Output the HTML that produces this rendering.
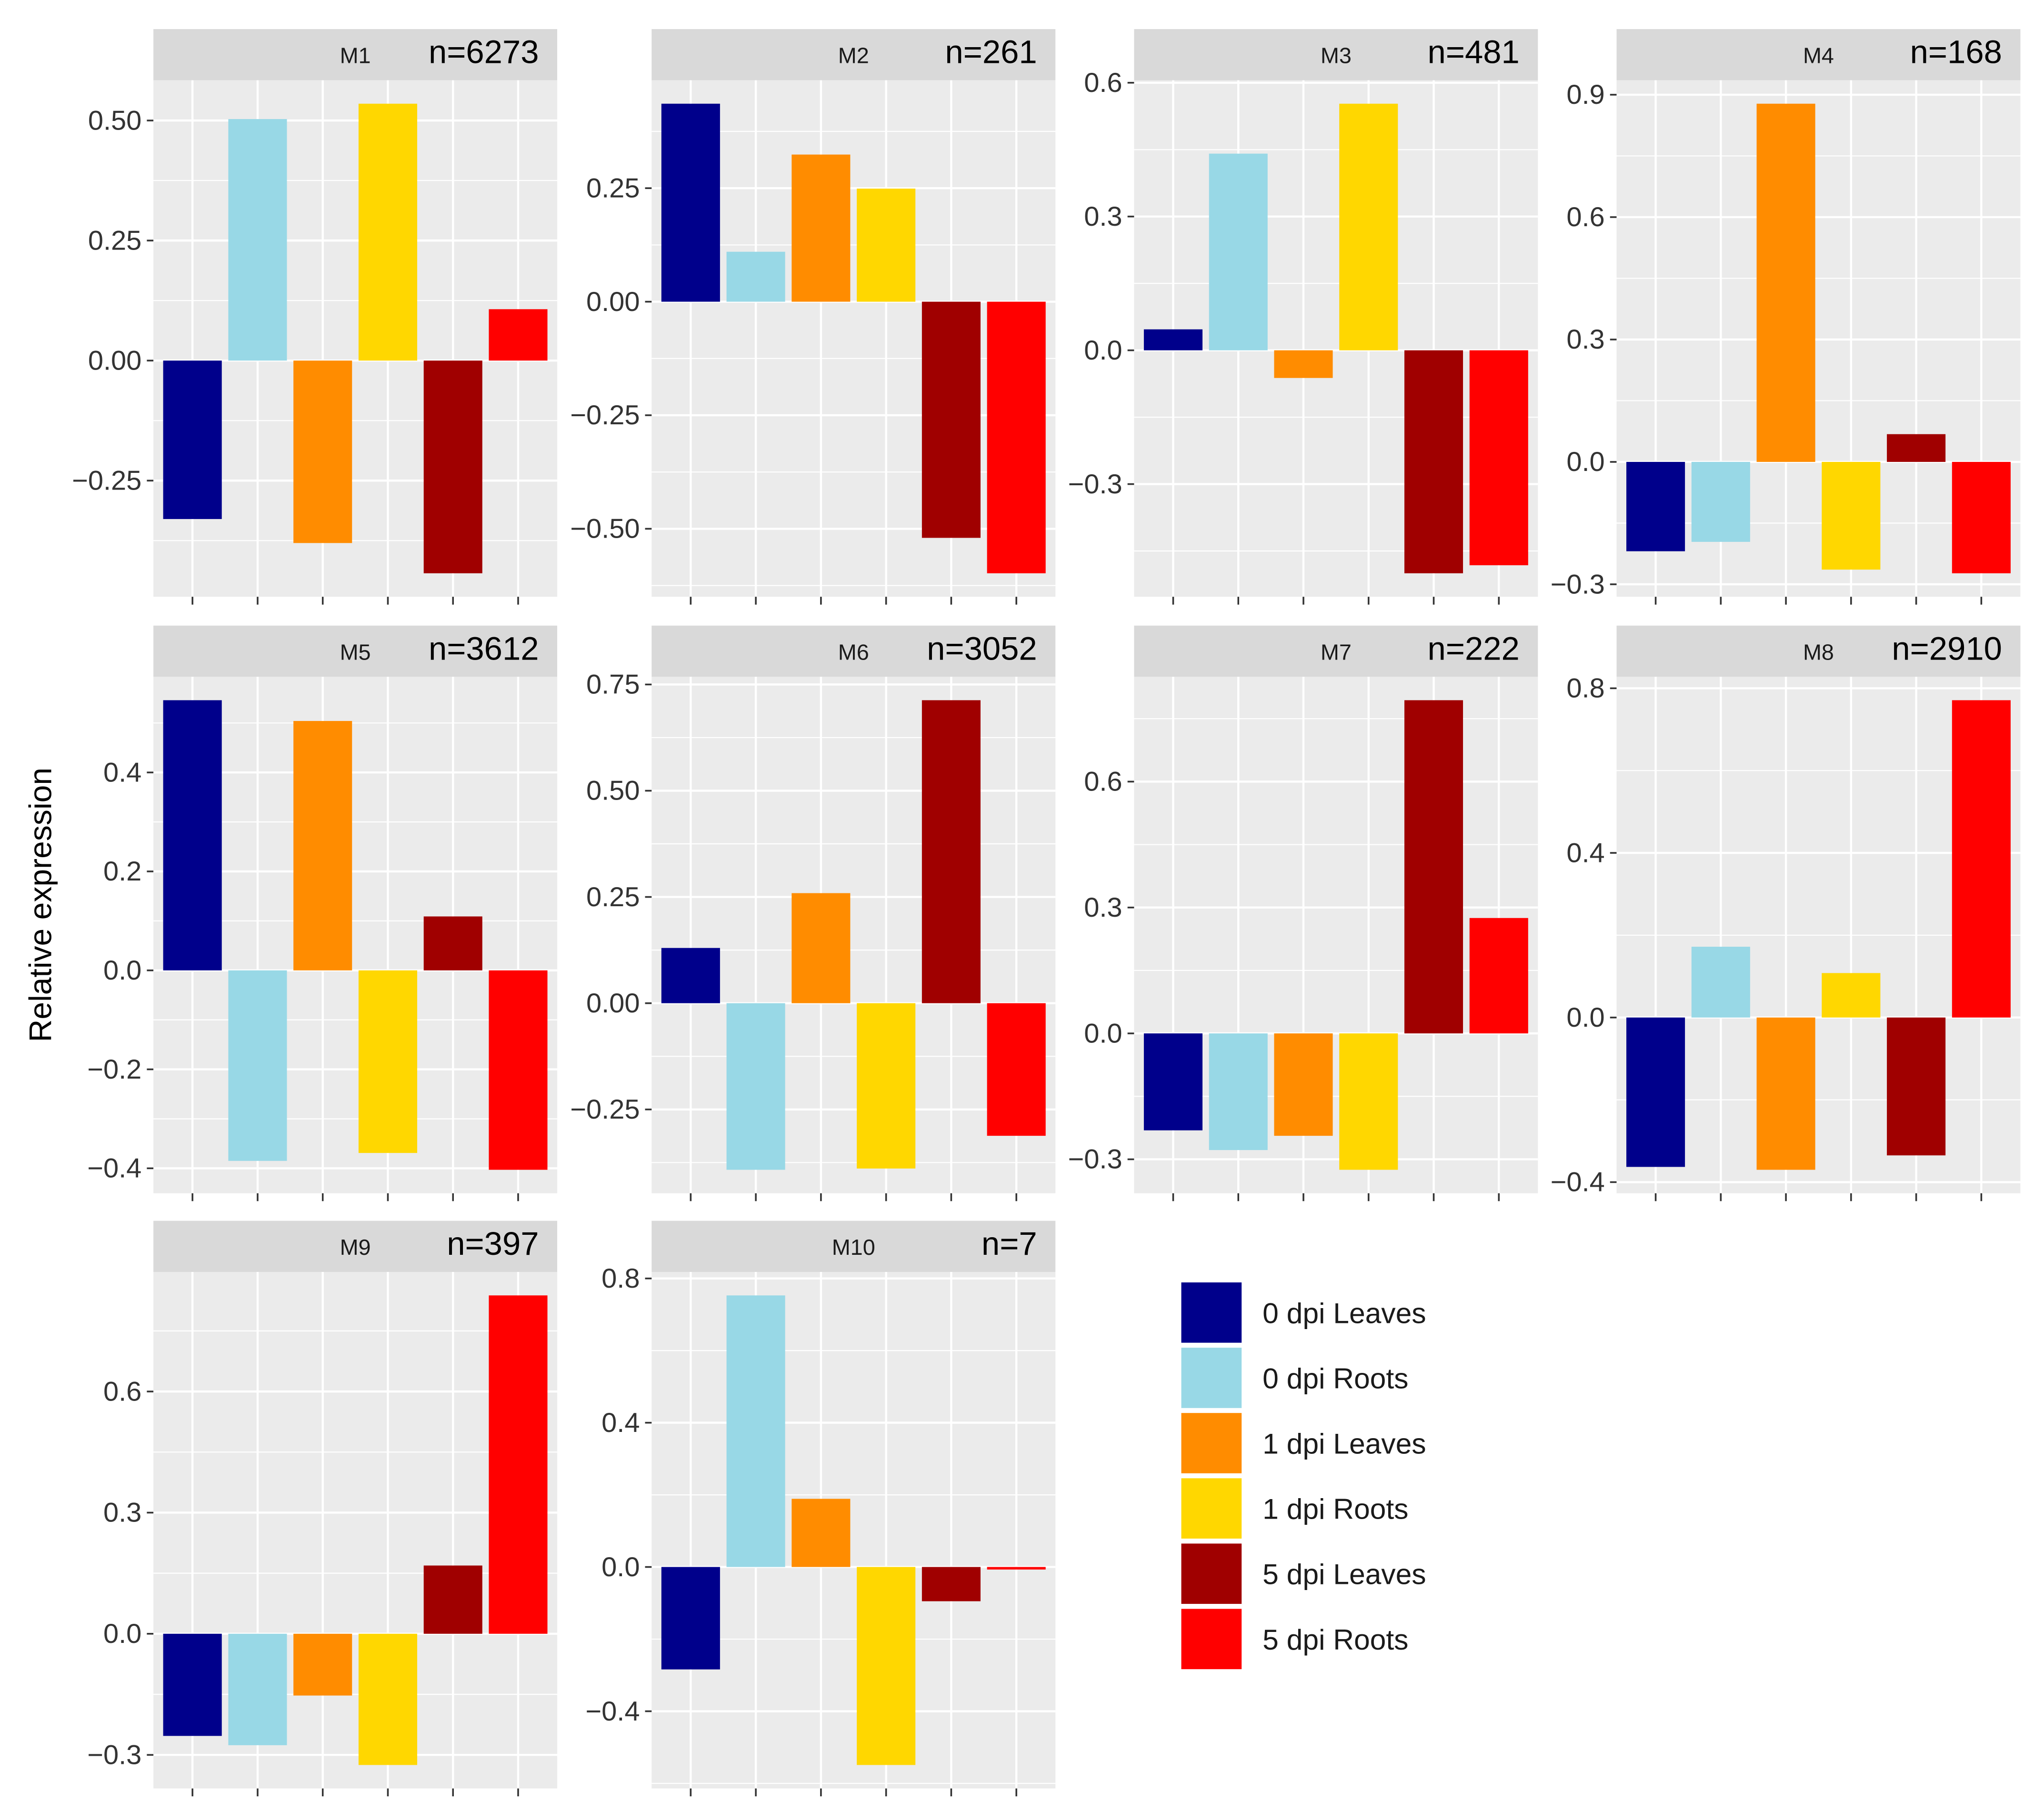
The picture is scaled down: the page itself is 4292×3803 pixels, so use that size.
<!DOCTYPE html>
<html><head><meta charset="utf-8"><style>
html,body{margin:0;padding:0;background:#fff;}
svg{display:block;}
text{font-family:"Liberation Sans",Arial,sans-serif;}
</style></head>
<body>
<svg id="chart" width="4292" height="3803" viewBox="0 0 1559 1381" xmlns="http://www.w3.org/2000/svg"></svg>
<script>
const categories = ["0 dpi Leaves","0 dpi Roots","1 dpi Leaves","1 dpi Roots","5 dpi Leaves","5 dpi Roots"];
const colors = ["#00008b","#98d8e6","#ff8c00","#ffd700","#a00000","#ff0000"];
const modules = ["M1","M2","M3","M4","M5","M6","M7","M8","M9","M10"];
const counts = ["n=6273","n=261","n=481","n=168","n=3612","n=3052","n=222","n=2910","n=397","n=7"];
const valsM1 = [-0.33,0.503,-0.38,0.535,-0.443,0.107];
const valsM2 = [0.436,0.110,0.324,0.249,-0.520,-0.598];
const valsM3 = [0.047,0.441,-0.062,0.553,-0.500,-0.482];
const valsM4 = [-0.219,-0.196,0.878,-0.264,0.068,-0.273];
const valsM5 = [0.546,-0.385,0.504,-0.369,0.109,-0.403];
const valsM6 = [0.130,-0.392,0.259,-0.389,0.713,-0.312];
const valsM7 = [-0.231,-0.278,-0.244,-0.325,0.794,0.275];
const valsM8 = [-0.363,0.172,-0.370,0.108,-0.335,0.771];
const valsM9 = [-0.253,-0.276,-0.153,-0.325,0.169,0.838];
const valsM10 = [-0.284,0.753,0.189,-0.549,-0.095,-0.007];
const ticksM1 = [-0.25,0,0.25,0.5];
const ticksM2 = [-0.5,-0.25,0,0.25];
const ticksM3 = [-0.3,0,0.3,0.6];
const ticksM4 = [-0.3,0,0.3,0.6,0.9];
const ticksM5 = [-0.4,-0.2,0,0.2,0.4];
const ticksM6 = [-0.25,0,0.25,0.5,0.75];
const ticksM7 = [-0.3,0,0.3,0.6];
const ticksM8 = [-0.4,0,0.4,0.8];
const ticksM9 = [-0.3,0,0.3,0.6];
const ticksM10 = [-0.4,0,0.4,0.8];
const tickDigits = [2,2,1,1,1,2,1,1,1,1];

const allVals=[valsM1,valsM2,valsM3,valsM4,valsM5,valsM6,valsM7,valsM8,valsM9,valsM10];
const allTicks=[ticksM1,ticksM2,ticksM3,ticksM4,ticksM5,ticksM6,ticksM7,ticksM8,ticksM9,ticksM10];
const NS="http://www.w3.org/2000/svg";
const svg=document.getElementById('chart');
function mk(tag,attrs,parent){const e=document.createElementNS(NS,tag);for(const k in attrs)e.setAttribute(k,attrs[k]);(parent||svg).appendChild(e);return e;}
const colX=[117,497,865,1233], rowY=[22,477,931], PW=308, SH=39, PH=394;
function fmt(v,d){const s=Math.abs(v).toFixed(d);return (v<0?"\u2212":"")+s;}

modules.forEach((m,i)=>{
  const vals=allVals[i], ticks=allTicks[i];
  const x0=colX[i%4], y0=rowY[Math.floor(i/4)], pt=y0+SH, pb=pt+PH;
  const g=mk('g',{});
  
  
  let lo=Math.min(0,...vals), hi=Math.max(0,...vals), r=hi-lo;
  lo-=r*0.05; hi+=r*0.05;
  const yS=v=>pb-(v-lo)/(hi-lo)*PH;
  const step=PW/6.2;
  const xS=k=>x0+step*(0.6+k);
  mk('rect',{x:x0,y:pt,width:PW,height:PH,fill:'#ebebeb'},g);
  const dt=ticks[1]-ticks[0];
  for(let t=ticks[0]-dt/2;t<=ticks[ticks.length-1]+dt;t+=dt){
    const y=yS(t); if(y>pt&&y<pb) mk('line',{x1:x0,x2:x0+PW,y1:y,y2:y,stroke:'#fff','stroke-width':0.8},g);
  }
  ticks.forEach(t=>{const y=yS(t);mk('line',{x1:x0,x2:x0+PW,y1:y,y2:y,stroke:'#fff','stroke-width':1.6},g);
    mk('line',{x1:x0-5,x2:x0,y1:y,y2:y,stroke:'#333','stroke-width':1.3},g);
    const tl=mk('text',{x:x0-9,y:y+7,'text-anchor':'end','font-size':21,fill:'#333'},g);
    
    
    tl.textContent=fmt(t,tickDigits[i]);});
  categories.forEach((c,k)=>{const x=xS(k);
    mk('line',{x1:x,x2:x,y1:pt,y2:pb,stroke:'#fff','stroke-width':1.6},g);
    mk('line',{x1:x,x2:x,y1:pb,y2:pb+6,stroke:'#333','stroke-width':1.3},g);});
  vals.forEach((v,k)=>{const x=xS(k)-step*0.45, ya=yS(Math.max(v,0)), yb=yS(Math.min(v,0));
    const b=mk('rect',{x:x,y:ya,width:step*0.9,height:Math.max(yb-ya,0.8),fill:colors[k]},g);
    
    });
  const st=mk('rect',{x:x0,y:y0,width:PW,height:SH,fill:'#d9d9d9'},g);
  
  
  const t1=mk('text',{x:x0+PW/2,y:y0+26,'text-anchor':'middle','font-size':17,fill:'#1a1a1a'},g);
  
  
  t1.textContent=m;
  const t2=mk('text',{x:x0+PW-14,y:y0+26,'text-anchor':'end','font-size':25,fill:'#000'},g);
  
  
  t2.textContent=counts[i];
});
const yt=mk('text',{x:0,y:0,transform:'translate(39,690) rotate(-90)','text-anchor':'middle','font-size':24,fill:'#000'});


yt.textContent='Relative expression';
categories.forEach((c,k)=>{
  const y=978+k*49.8;
  const lg=mk('g',{});
  
  
  mk('rect',{x:901,y:y,width:46,height:46,fill:colors[k]},lg);
  const t=mk('text',{x:963,y:y+31,'font-size':22,fill:'#1a1a1a'},lg);
  t.textContent=c;
});
</script>
</body></html>
